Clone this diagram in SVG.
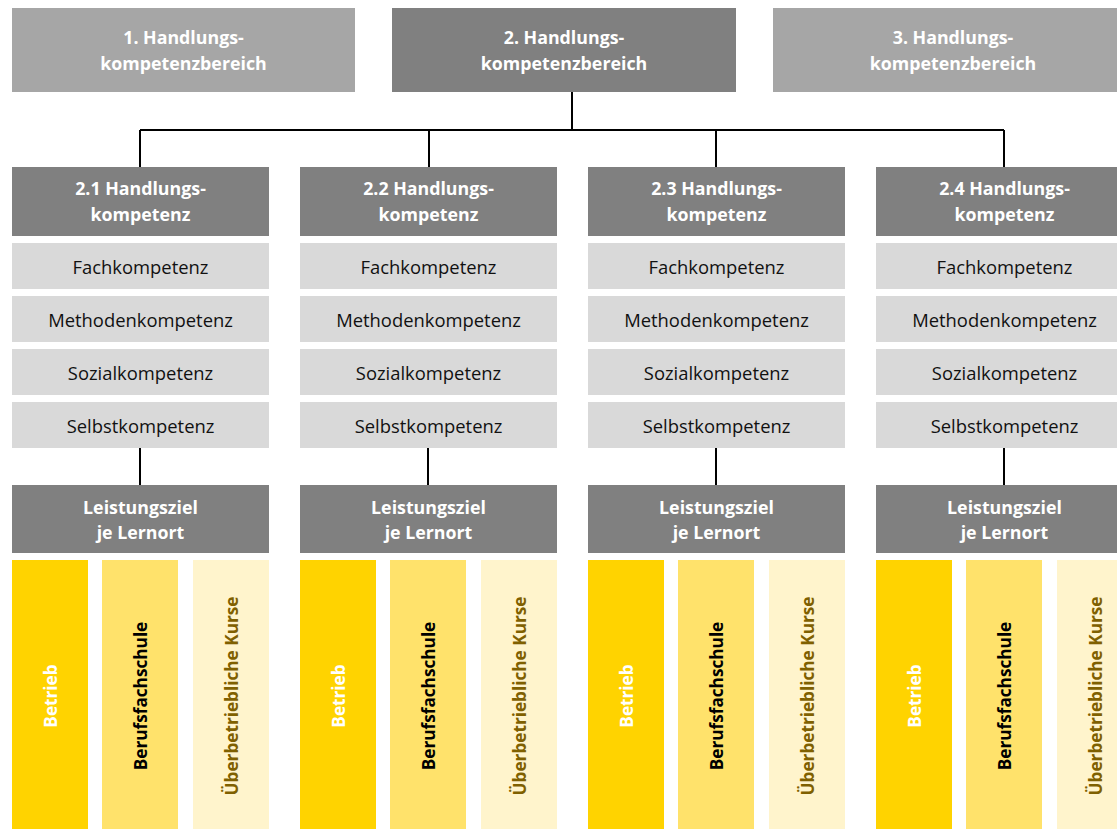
<svg xmlns="http://www.w3.org/2000/svg" width="1117" height="829" viewBox="0 0 1117 829">
<style>
text{font-family:"Open Sans","Liberation Sans",sans-serif;text-anchor:middle;dominant-baseline:central}
.top1{fill:#a6a6a6}
.dark{fill:#808080}
.sub{fill:#d9d9d9}
.y1{fill:#ffd300}
.y2{fill:#ffe26b}
.y3{fill:#fff4cc}
.wb{fill:#fff;font-weight:bold;font-size:17.8px}
.st{fill:#111;font-size:18.4px}
.rot{font-weight:bold;font-size:17.2px}
.conn{stroke:#000;stroke-width:2;fill:none}
</style>
<rect width="1117" height="829" fill="#fff"/>
<g id="connectors">
<path class="conn" d="M572 92V130M140 130H1004M140 130V167M429 130V167M716 130V167M1004 130V167"/>
<path class="conn" d="M140 448V485M428 448V485M716 448V485M1004 448V485"/>
</g>
<g id="hkb1"><rect class="top1" x="12" y="8" width="343" height="84"/><text class="wb" x="183.5" y="37">1. Handlungs-</text><text class="wb" x="183.5" y="63">kompetenzbereich</text></g>
<g id="hkb2"><rect class="dark" x="392" y="8" width="344" height="84"/><text class="wb" x="564" y="37">2. Handlungs-</text><text class="wb" x="564" y="63">kompetenzbereich</text></g>
<g id="hkb3"><rect class="top1" x="773" y="8" width="344" height="84"/><text class="wb" x="953" y="37">3. Handlungs-</text><text class="wb" x="953" y="63">kompetenzbereich</text></g>

<g id="col1" transform="translate(0,0)">
<g id="hk21"><rect class="dark" x="12" y="167" width="257" height="69"/><text class="wb" x="140.5" y="188">2.1 Handlungs-</text><text class="wb" x="140.5" y="214">kompetenz</text></g>
<g id="fach1"><rect class="sub" x="12" y="243" width="257" height="46"/><text class="st" x="140.5" y="266">Fachkompetenz</text></g>
<g id="meth1"><rect class="sub" x="12" y="296" width="257" height="46"/><text class="st" x="140.5" y="319">Methodenkompetenz</text></g>
<g id="soz1"><rect class="sub" x="12" y="349" width="257" height="46"/><text class="st" x="140.5" y="372">Sozialkompetenz</text></g>
<g id="selb1"><rect class="sub" x="12" y="402" width="257" height="46"/><text class="st" x="140.5" y="425">Selbstkompetenz</text></g>
<g id="lz1"><rect class="dark" x="12" y="485" width="257" height="68"/><text class="wb" x="140.5" y="507">Leistungsziel</text><text class="wb" x="140.5" y="532">je Lernort</text></g>
<g id="betr1"><rect class="y1" x="12" y="560" width="76" height="269"/><text class="rot" fill="#fff" transform="translate(50,696) rotate(-90)">Betrieb</text></g>
<g id="bfs1"><rect class="y2" x="102" y="560" width="76" height="269"/><text class="rot" fill="#000" transform="translate(140,696) rotate(-90)">Berufsfachschule</text></g>
<g id="uek1"><rect class="y3" x="193" y="560" width="76" height="269"/><text class="rot" fill="#7f6000" transform="translate(231,696) rotate(-90)">Überbetriebliche Kurse</text></g>
</g>

<g id="col2" transform="translate(288,0)">
<g id="hk22"><rect class="dark" x="12" y="167" width="257" height="69"/><text class="wb" x="140.5" y="188">2.2 Handlungs-</text><text class="wb" x="140.5" y="214">kompetenz</text></g>
<g id="fach2"><rect class="sub" x="12" y="243" width="257" height="46"/><text class="st" x="140.5" y="266">Fachkompetenz</text></g>
<g id="meth2"><rect class="sub" x="12" y="296" width="257" height="46"/><text class="st" x="140.5" y="319">Methodenkompetenz</text></g>
<g id="soz2"><rect class="sub" x="12" y="349" width="257" height="46"/><text class="st" x="140.5" y="372">Sozialkompetenz</text></g>
<g id="selb2"><rect class="sub" x="12" y="402" width="257" height="46"/><text class="st" x="140.5" y="425">Selbstkompetenz</text></g>
<g id="lz2"><rect class="dark" x="12" y="485" width="257" height="68"/><text class="wb" x="140.5" y="507">Leistungsziel</text><text class="wb" x="140.5" y="532">je Lernort</text></g>
<g id="betr2"><rect class="y1" x="12" y="560" width="76" height="269"/><text class="rot" fill="#fff" transform="translate(50,696) rotate(-90)">Betrieb</text></g>
<g id="bfs2"><rect class="y2" x="102" y="560" width="76" height="269"/><text class="rot" fill="#000" transform="translate(140,696) rotate(-90)">Berufsfachschule</text></g>
<g id="uek2"><rect class="y3" x="193" y="560" width="76" height="269"/><text class="rot" fill="#7f6000" transform="translate(231,696) rotate(-90)">Überbetriebliche Kurse</text></g>
</g>

<g id="col3" transform="translate(576,0)">
<g id="hk23"><rect class="dark" x="12" y="167" width="257" height="69"/><text class="wb" x="140.5" y="188">2.3 Handlungs-</text><text class="wb" x="140.5" y="214">kompetenz</text></g>
<g id="fach3"><rect class="sub" x="12" y="243" width="257" height="46"/><text class="st" x="140.5" y="266">Fachkompetenz</text></g>
<g id="meth3"><rect class="sub" x="12" y="296" width="257" height="46"/><text class="st" x="140.5" y="319">Methodenkompetenz</text></g>
<g id="soz3"><rect class="sub" x="12" y="349" width="257" height="46"/><text class="st" x="140.5" y="372">Sozialkompetenz</text></g>
<g id="selb3"><rect class="sub" x="12" y="402" width="257" height="46"/><text class="st" x="140.5" y="425">Selbstkompetenz</text></g>
<g id="lz3"><rect class="dark" x="12" y="485" width="257" height="68"/><text class="wb" x="140.5" y="507">Leistungsziel</text><text class="wb" x="140.5" y="532">je Lernort</text></g>
<g id="betr3"><rect class="y1" x="12" y="560" width="76" height="269"/><text class="rot" fill="#fff" transform="translate(50,696) rotate(-90)">Betrieb</text></g>
<g id="bfs3"><rect class="y2" x="102" y="560" width="76" height="269"/><text class="rot" fill="#000" transform="translate(140,696) rotate(-90)">Berufsfachschule</text></g>
<g id="uek3"><rect class="y3" x="193" y="560" width="76" height="269"/><text class="rot" fill="#7f6000" transform="translate(231,696) rotate(-90)">Überbetriebliche Kurse</text></g>
</g>

<g id="col4" transform="translate(864,0)">
<g id="hk24"><rect class="dark" x="12" y="167" width="257" height="69"/><text class="wb" x="140.5" y="188">2.4 Handlungs-</text><text class="wb" x="140.5" y="214">kompetenz</text></g>
<g id="fach4"><rect class="sub" x="12" y="243" width="257" height="46"/><text class="st" x="140.5" y="266">Fachkompetenz</text></g>
<g id="meth4"><rect class="sub" x="12" y="296" width="257" height="46"/><text class="st" x="140.5" y="319">Methodenkompetenz</text></g>
<g id="soz4"><rect class="sub" x="12" y="349" width="257" height="46"/><text class="st" x="140.5" y="372">Sozialkompetenz</text></g>
<g id="selb4"><rect class="sub" x="12" y="402" width="257" height="46"/><text class="st" x="140.5" y="425">Selbstkompetenz</text></g>
<g id="lz4"><rect class="dark" x="12" y="485" width="257" height="68"/><text class="wb" x="140.5" y="507">Leistungsziel</text><text class="wb" x="140.5" y="532">je Lernort</text></g>
<g id="betr4"><rect class="y1" x="12" y="560" width="76" height="269"/><text class="rot" fill="#fff" transform="translate(50,696) rotate(-90)">Betrieb</text></g>
<g id="bfs4"><rect class="y2" x="102" y="560" width="76" height="269"/><text class="rot" fill="#000" transform="translate(140,696) rotate(-90)">Berufsfachschule</text></g>
<g id="uek4"><rect class="y3" x="193" y="560" width="76" height="269"/><text class="rot" fill="#7f6000" transform="translate(231,696) rotate(-90)">Überbetriebliche Kurse</text></g>
</g>
</svg>
